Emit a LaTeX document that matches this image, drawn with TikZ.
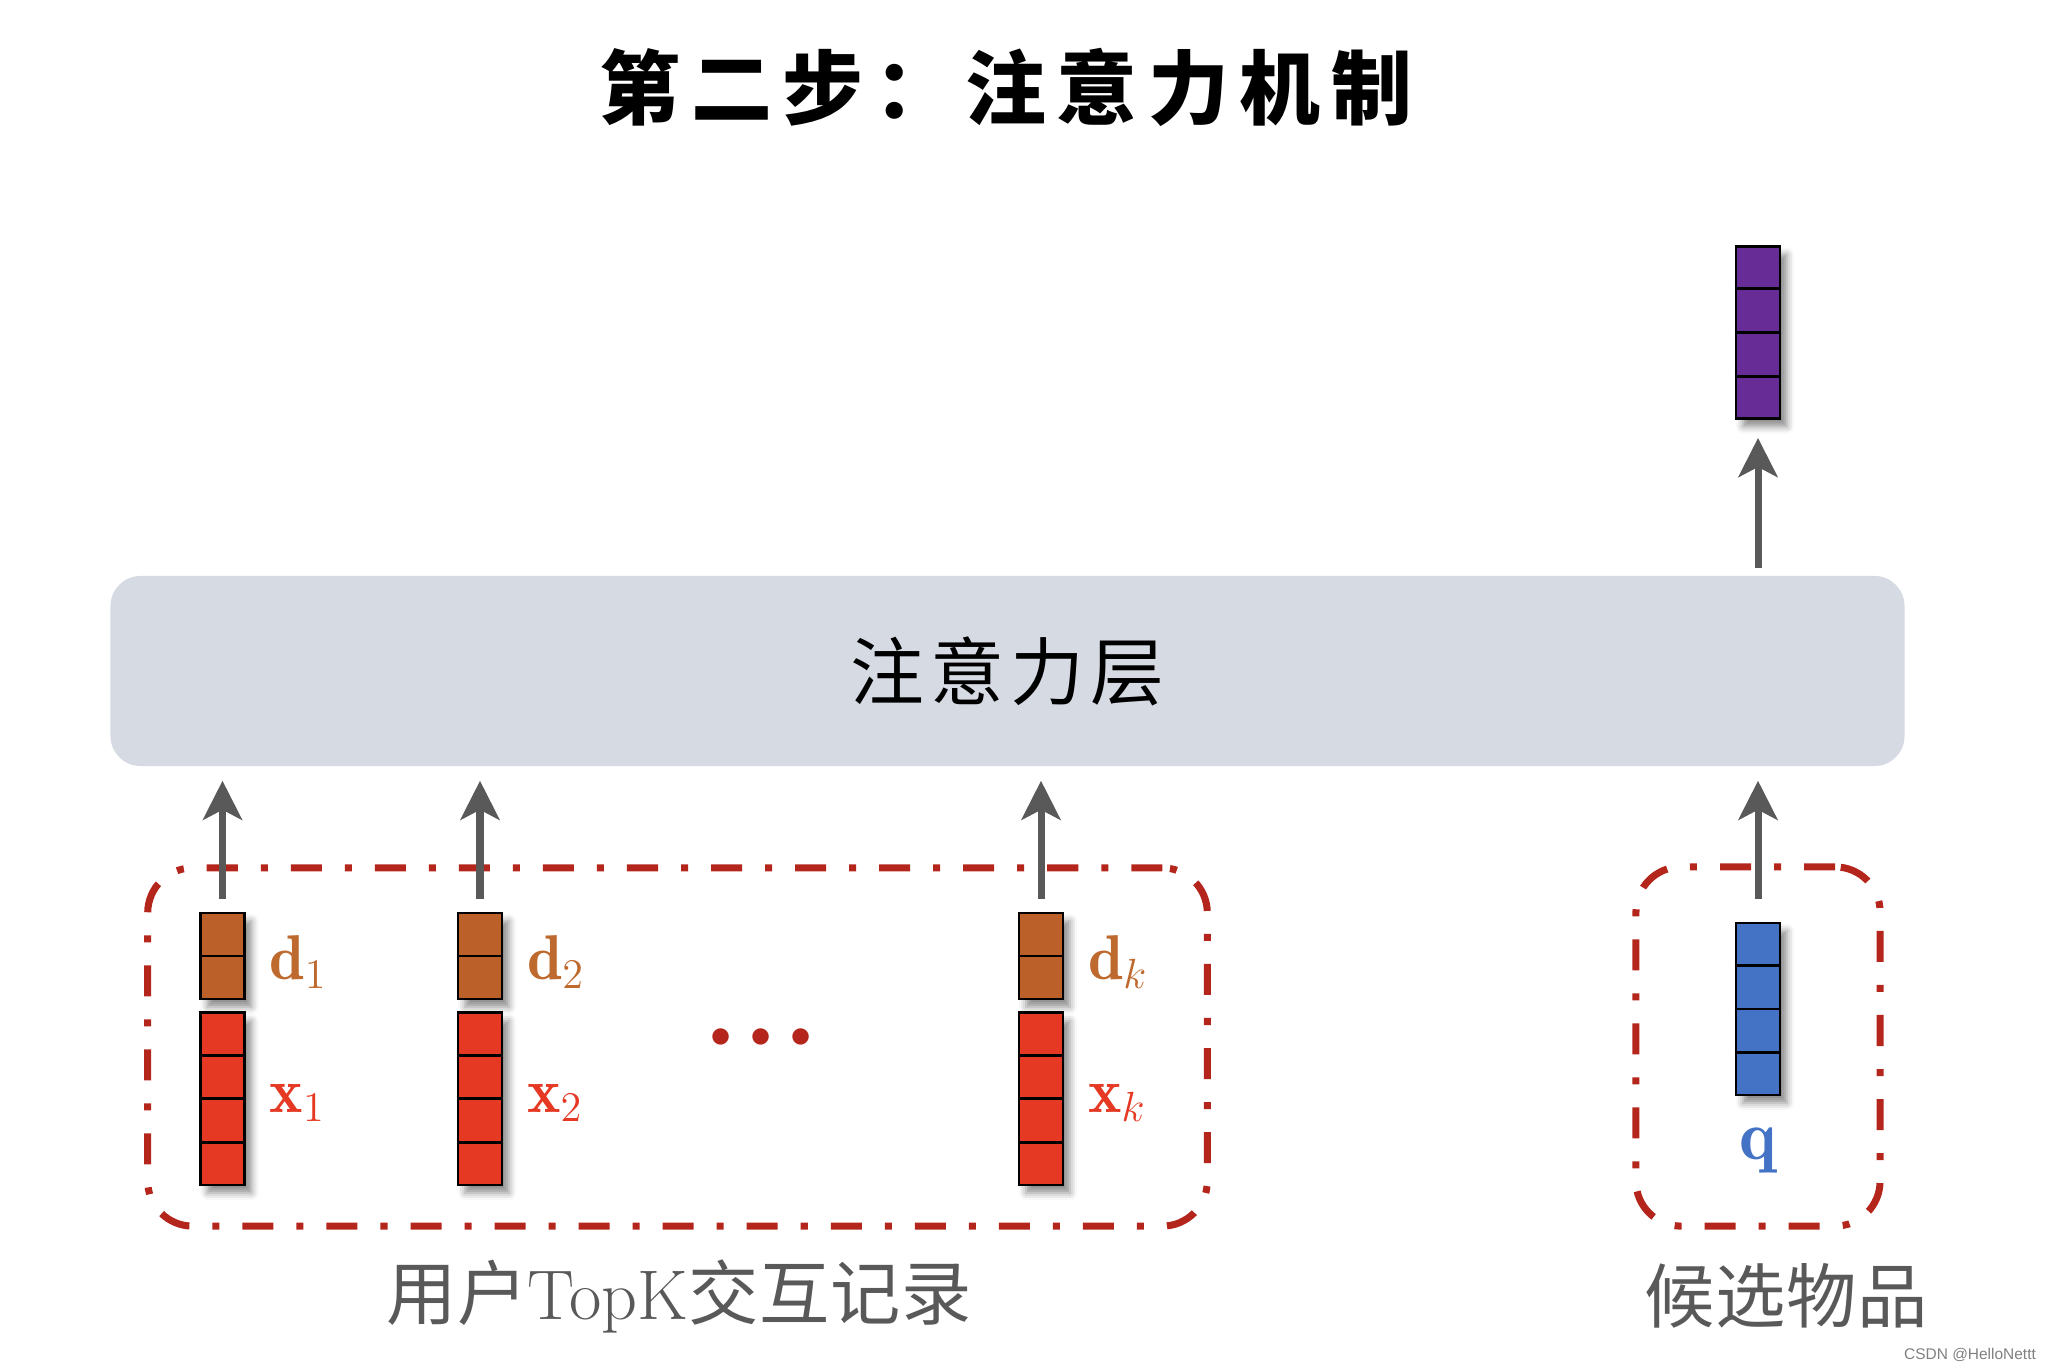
\documentclass[tikz,border=0pt]{standalone}
\usepackage{amsmath}
\usepackage{fontspec}
\newfontfamily\cjk{Noto Sans CJK SC}
\newfontfamily\wmfont{Liberation Sans}
\usetikzlibrary{arrows.meta,positioning,calc,shadows.blur}
\definecolor{dcol}{RGB}{186,96,40}
\definecolor{dlab}{RGB}{190,105,45}
\definecolor{xcol}{RGB}{229,57,36}
\definecolor{qcol}{RGB}{68,114,196}
\definecolor{ocol}{RGB}{104,44,150}
\definecolor{layercol}{RGB}{214,218,227}
\definecolor{arrgray}{RGB}{89,89,89}
\definecolor{grpred}{RGB}{180,38,28}
\definecolor{txtgray}{RGB}{89,89,89}

\begin{document}
\begin{tikzpicture}[
  x=0.01cm, y=-0.01cm,
  vec/.style={draw=black,line width=0.8pt,minimum width=4.4mm,inner sep=0,
    blur shadow={shadow xshift=0.7mm,shadow yshift=-0.8mm,shadow blur radius=0.7mm,shadow opacity=45}},
  dvec/.style={vec,fill=dcol,minimum height=8.6mm},
  xvec/.style={vec,fill=xcol,minimum height=17.2mm},
  qvec/.style={vec,fill=qcol,minimum height=17.2mm},
  ovec/.style={vec,fill=ocol,minimum height=17.2mm},
  cellln/.style={draw=black,line width=0.8pt},
  dlbl/.style={inner sep=0,text=dlab,font=\fontsize{18}{18}\selectfont},
  xlbl/.style={inner sep=0,text=xcol,font=\fontsize{18}{18}\selectfont},
  layer/.style={fill=layercol,rounded corners=3mm,minimum width=17.93cm,minimum height=1.9cm,
    font=\cjk\fontsize{21}{21}\selectfont\addfontfeature{LetterSpace=8}},
  grp/.style={draw=grpred,line width=2pt,rounded corners=4.5mm,
    dash pattern=on 3.1mm off 2.3mm on 0.7mm off 2.3mm},
  lbl/.style={text=txtgray,font=\cjk\fontsize{20}{20}\selectfont\addfontfeature{LetterSpace=1}},
  arr/.style={-{Stealth[length=3.9mm,width=3.9mm,inset=1mm]},line width=2pt,draw=arrgray}
]
\useasboundingbox (0,0) rectangle (2052,1370);

\node[font=\cjk\bfseries\fontsize{23}{23}\selectfont\addfontfeature{LetterSpace=13}] (title) at (1006,87) {第二步：注意力机制};

\node[layer] (att) at (1007.5,671) {注意力层};

% history items
\node[dvec] (d1) at (222.5,956) {};
\node[xvec,below=1.1mm of d1] (x1) {};
\node[dvec] (d2) at (480,956) {};
\node[xvec,below=1.1mm of d2] (x2) {};
\node[dvec] (dk) at (1041,956) {};
\node[xvec,below=1.1mm of dk] (xk) {};
\node[dlbl,right=2.3mm of d1,yshift=-0.6mm] (d1lbl) {$\mathbf{d}_1$};
\node[dlbl,right=2.3mm of d2,yshift=-0.6mm] (d2lbl) {$\mathbf{d}_2$};
\node[dlbl,right=2.3mm of dk,yshift=-0.6mm] (dklbl) {$\mathbf{d}_k$};
\node[xlbl,right=2.3mm of x1,yshift=-0.4mm] (x1lbl) {$\mathbf{x}_1$};
\node[xlbl,right=2.3mm of x2,yshift=-0.4mm] (x2lbl) {$\mathbf{x}_2$};
\node[xlbl,right=2.3mm of xk,yshift=-0.4mm] (xklbl) {$\mathbf{x}_k$};
\node[text=grpred,font=\fontsize{12.5}{12.5}\selectfont] (dots) at (761,1038) {$\bullet\mkern4mu\bullet\mkern4mu\bullet$};

% candidate and output
\node[qvec] (q) at (1758,1009) {};
\node[inner sep=0,text=qcol,font=\fontsize{20}{20}\selectfont,below=3.1mm of q] (qlbl) {$\mathbf{q}$};
\node[ovec] (out) at (1758,332.5) {};

\foreach \v in {d1,d2,dk}
  \draw[cellln] (\v.west) -- (\v.east);
\foreach \v in {x1,x2,xk,q,out}
  \foreach \f in {0.25,0.5,0.75}
    \draw[cellln] ($(\v.north west)!\f!(\v.south west)$) -- ($(\v.north east)!\f!(\v.south east)$);

\node[grp,minimum width=10.59cm,minimum height=3.58cm] (hist) at (677.5,1047) {};
\node[grp,minimum width=2.44cm,minimum height=3.59cm] (cand) at (1758,1046.5) {};
\node[lbl] (histlbl) at (679,1296) {用户{\rmfamily TopK}交互记录};
\node[lbl] (candlbl) at (1786,1296) {候选物品};

\draw[arr,shorten <=1.3mm,shorten >=1.4mm] (d1.north) -- (d1.north |- att.south);
\draw[arr,shorten <=1.3mm,shorten >=1.4mm] (d2.north) -- (d2.north |- att.south);
\draw[arr,shorten <=1.3mm,shorten >=1.4mm] (dk.north) -- (dk.north |- att.south);
\draw[arr,shorten <=2.3mm,shorten >=1.4mm] (q.north) -- (q.north |- att.south);
\draw[arr,shorten <=0.7mm,shorten >=1.8mm] (att.north -| out) -- (out.south);

\node[text=gray,font=\wmfont\fontsize{4.4}{4.4}\selectfont] (wm) at (1970,1355) {CSDN @HelloNettt};
\end{tikzpicture}
\end{document}
